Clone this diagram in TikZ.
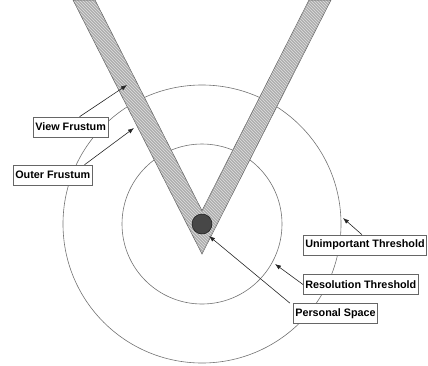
\documentclass[tikz,border=0pt]{standalone}
\usepackage{fontspec}
\setsansfont{Liberation Sans}
\usetikzlibrary{arrows.meta,patterns}
\tikzset{
  label box/.style={draw=black!60,line width=0.6pt,fill=white,anchor=west,
    font=\sffamily\bfseries\fontsize{10.8}{13}\selectfont,
    inner xsep=2pt,minimum height=20pt},
  pointer/.style={black!85,line width=0.6pt,-{Latex[length=6pt,width=4.5pt]}},
  ring/.style={black!55,line width=0.6pt}
}
\begin{document}
\begin{tikzpicture}[x=1pt,y=-1pt]
  \useasboundingbox (0,0) rectangle (428,365);
  % threshold rings round the viewer
  \draw[ring] (202,224) circle (139);
  \draw[ring] (202,224) circle (80);
  % frustum bands
  \draw[black!60,line width=0.5pt,preaction={fill=black!32},
    pattern=north west lines,pattern color=black!12]
    (73,0) -- (95,0) -- (202,210.7) -- (309,0) -- (331,0) -- (202,254) -- cycle;
  % personal space
  \draw[black!90,line width=0.5pt,fill=black!72] (202,224) circle (10);
  % labels
  \node[label box] (vf) at (33,127) {View Frustum};
  \node[label box] (of) at (13,175) {Outer Frustum};
  \node[label box] (ut) at (303,245) {Unimportant Threshold};
  \node[label box] (rt) at (303,284.5) {Resolution Threshold};
  \node[label box] (ps) at (293,313.5) {Personal Space};
  \coordinate (vftip) at (127,85);
  \coordinate (oftip) at (134,128);
  \coordinate (uttip) at (343,218);
  \coordinate (rttip) at (275,264);
  \coordinate (pstip) at (209,236);
  \draw[pointer] ([xshift=9pt]vf.north) -- (vftip);
  \draw[pointer] ([xshift=-8pt]of.north east) -- (oftip);
  \draw[pointer] ([xshift=-3pt]ut.north) -- (uttip);
  \draw[pointer] (rt.west) -- (rttip);
  \draw[pointer] ([xshift=-3pt]ps.north west) -- (pstip);
\end{tikzpicture}
\end{document}
